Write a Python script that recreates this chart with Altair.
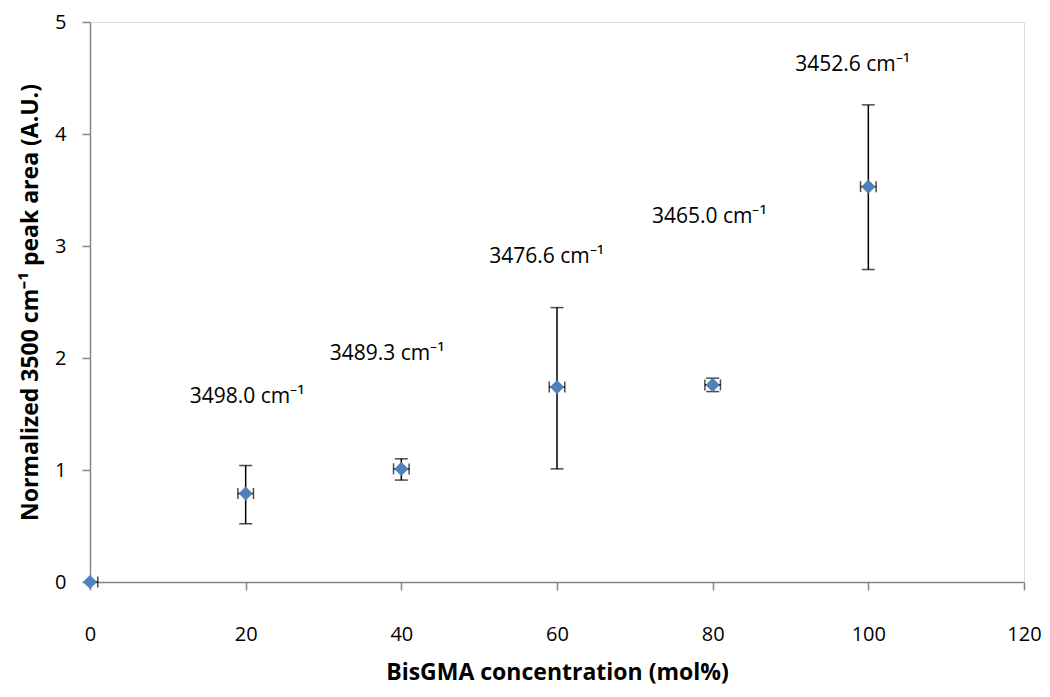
import altair as alt
import pandas as pd

conc = [0, 20, 40, 60, 80, 100]
area = [0.0, 0.79, 1.01, 1.74, 1.76, 3.53]
y_lo = [0.0, 0.52, 0.91, 1.01, 1.70, 2.79]
y_hi = [0.0, 1.04, 1.10, 2.45, 1.82, 4.26]
x_lo = [0, 19, 39, 59, 79, 99]
x_hi = [1, 21, 41, 61, 81, 101]

label_text = ["3498.0 cm⁻¹", "3489.3 cm⁻¹", "3476.6 cm⁻¹", "3465.0 cm⁻¹", "3452.6 cm⁻¹"]
label_x = [12.8, 30.8, 51.3, 72.2, 90.6]
label_y = [1.65, 2.04, 2.90, 3.26, 4.62]

df = pd.DataFrame({"conc": conc, "area": area, "ylo": y_lo, "yhi": y_hi,
                   "xlo": x_lo, "xhi": x_hi})
ebars = df[df["yhi"] > df["ylo"]]
lab = pd.DataFrame({"t": label_text, "x": label_x, "y": label_y})

FONT = "Open Sans"
xs = alt.Scale(domain=[0, 120], nice=False, zero=False)
ys = alt.Scale(domain=[0, 5], nice=False)

xax = alt.Axis(title="BisGMA concentration (mol%)", values=[0, 20, 40, 60, 80, 100, 120],
               format="d", labelFlush=False,
               grid=False, domainColor="#868686", tickColor="#868686", tickSize=8,
               labelPadding=34, labelFontSize=20, labelColor="#000000", labelFont=FONT,
               titleFont=FONT, titleFontSize=23, titleFontWeight="bold", titlePadding=17,
               titleColor="#000000", domainWidth=1.5, tickWidth=1.5)
yax = alt.Axis(title="Normalized 3500 cm⁻¹ peak area (A.U.)", values=[0, 1, 2, 3, 4, 5],
               format="d", labelFlush=False,
               grid=False, domainColor="#868686", tickColor="#868686", tickSize=8,
               labelPadding=16, labelFontSize=20, labelColor="#000000", labelFont=FONT,
               titleFont=FONT, titleFontSize=23, titleFontWeight="bold", titlePadding=12,
               titleColor="#000000", domainWidth=1.5, tickWidth=1.5)

base = alt.Chart(df)
vrule = alt.Chart(ebars).mark_rule(color="black", strokeWidth=1.5).encode(
    x=alt.X("conc:Q", scale=xs, axis=xax), y=alt.Y("ylo:Q", scale=ys, axis=yax), y2="yhi:Q")
capt = alt.Chart(ebars).mark_tick(color="black", orient="horizontal", size=13, thickness=1.5).encode(
    x=alt.X("conc:Q", scale=xs), y=alt.Y("yhi:Q", scale=ys))
capb = alt.Chart(ebars).mark_tick(color="black", orient="horizontal", size=13, thickness=1.5).encode(
    x=alt.X("conc:Q", scale=xs), y=alt.Y("ylo:Q", scale=ys))
hrule = base.mark_rule(color="black", strokeWidth=1.5).encode(
    x=alt.X("xlo:Q", scale=xs), x2="xhi:Q", y=alt.Y("area:Q", scale=ys))
capl = alt.Chart(df[df["conc"] > 0]).mark_tick(color="black", orient="vertical", size=11, thickness=1.5).encode(
    x=alt.X("xlo:Q", scale=xs), y=alt.Y("area:Q", scale=ys))
capr = base.mark_tick(color="black", orient="vertical", size=11, thickness=1.5).encode(
    x=alt.X("xhi:Q", scale=xs), y=alt.Y("area:Q", scale=ys))
pts = base.mark_point(shape="diamond", filled=True, color="#4F81BD", size=200, opacity=1).encode(
    x=alt.X("conc:Q", scale=xs), y=alt.Y("area:Q", scale=ys))
txt = alt.Chart(lab).mark_text(align="left", baseline="middle", fontSize=21, font=FONT,
                               color="#000000").encode(
    x=alt.X("x:Q", scale=xs), y=alt.Y("y:Q", scale=ys), text="t:N")

chart = alt.layer(vrule, capt, capb, hrule, capl, capr, pts, txt).properties(
    width=934, height=560,
    autosize=alt.AutoSizeParams(type="none"),
    padding={"left": 82, "top": 14, "right": 18, "bottom": 107},
).configure_view(stroke=None).configure(background="white")

chart.save("out.html", embed_options={"renderer": "svg", "actions": False})
